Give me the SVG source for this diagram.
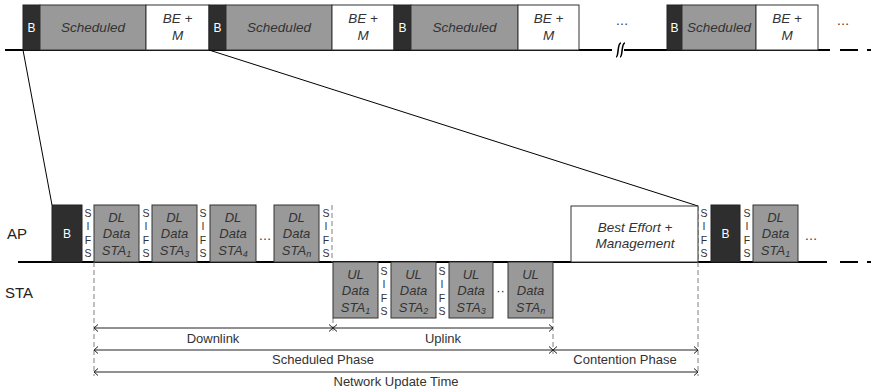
<svg xmlns="http://www.w3.org/2000/svg" width="871" height="391" viewBox="0 0 871 391">
  <style>
    text { font-family: "Liberation Sans", Arial, sans-serif; }
    .sched { fill: #999999; stroke: #333333; stroke-width: 1; }
    .beacon { fill: #2e2e2e; stroke: #222222; stroke-width: 1; }
    .plain { fill: #ffffff; stroke: #333333; stroke-width: 1; }
    .axis { stroke: #000000; stroke-width: 2; fill: none; }
    .axisdash { stroke: #000000; stroke-width: 2; fill: none; stroke-dasharray: 18 9; }
    .zoom { stroke: #000000; stroke-width: 1; fill: none; }
    .guide { stroke: #808080; stroke-width: 1; fill: none; stroke-dasharray: 5 3; }
    .dim { stroke: #222222; stroke-width: 1; fill: none; marker-start: url(#tickL); marker-end: url(#tickR); }
    .it { font-style: italic; font-size: 13.5px; fill: #333333; text-anchor: middle; }
    .itS { font-style: italic; font-size: 13px; fill: #333333; text-anchor: middle; }
    .bw { font-size: 12px; fill: #ffffff; text-anchor: middle; }
    .sifs { font-size: 10.5px; fill: #333333; text-anchor: middle; }
    .sub { font-size: 9px; }
    .lbl { font-size: 13px; fill: #333333; text-anchor: middle; }
    .row { font-size: 15px; fill: #222222; }
    .dots { font-size: 13px; fill: #333333; text-anchor: middle; }
  </style>
  <defs>
    <marker id="tickL" markerWidth="8" markerHeight="8" refX="0.5" refY="4" orient="auto" markerUnits="userSpaceOnUse">
      <path d="M4.5,0.5 L0.5,4 L4.5,7.5" fill="none" stroke="#222222" stroke-width="1"/>
    </marker>
    <marker id="tickR" markerWidth="8" markerHeight="8" refX="7.5" refY="4" orient="auto" markerUnits="userSpaceOnUse">
      <path d="M3.5,0.5 L7.5,4 L3.5,7.5" fill="none" stroke="#222222" stroke-width="1"/>
    </marker>
  </defs>
  <rect x="0" y="0" width="871" height="391" fill="#ffffff"/>

  <!-- superframe timeline -->
  <g id="top-axis">
    <line class="axis" x1="5" y1="50" x2="830" y2="50"/>
    <path class="axisdash" d="M840,50 H871"/>
    <!-- break mark -->
    <rect x="612" y="42" width="12" height="16" fill="#ffffff"/>
    <path d="M616,57 C619,57 617,43 621,43 M620,57 C623,57 621,43 625,43" fill="none" stroke="#000000" stroke-width="1.6"/>
  </g>

  <g id="sf1">
    <rect class="beacon" x="23" y="5" width="17" height="45"/>
    <text class="bw" x="31.5" y="32">B</text>
    <rect class="sched" x="40" y="5" width="106" height="45"/>
    <text class="it" x="93" y="32">Scheduled</text>
    <rect class="plain" x="146" y="5" width="63" height="45"/>
    <text class="it" x="177.5" y="23">BE +</text>
    <text class="it" x="177.5" y="40">M</text>
  </g>
  <g id="sf2">
    <rect class="beacon" x="209" y="5" width="17" height="45"/>
    <text class="bw" x="217.5" y="32">B</text>
    <rect class="sched" x="226" y="5" width="106" height="45"/>
    <text class="it" x="279" y="32">Scheduled</text>
    <rect class="plain" x="332" y="5" width="62" height="45"/>
    <text class="it" x="363" y="23">BE +</text>
    <text class="it" x="363" y="40">M</text>
  </g>
  <g id="sf3">
    <rect class="beacon" x="394" y="5" width="17" height="45"/>
    <text class="bw" x="402.5" y="32">B</text>
    <rect class="sched" x="411" y="5" width="107" height="45"/>
    <text class="it" x="464.5" y="32">Scheduled</text>
    <rect class="plain" x="518" y="5" width="61" height="45"/>
    <text class="it" x="548.5" y="23">BE +</text>
    <text class="it" x="548.5" y="40">M</text>
  </g>
  <text class="dots" x="622" y="25">…</text>
  <g id="sfN">
    <rect class="beacon" x="667" y="5" width="15" height="45"/>
    <text class="bw" x="674.5" y="32">B</text>
    <rect class="sched" x="682" y="5" width="74" height="45"/>
    <text class="it" x="719" y="32">Scheduled</text>
    <rect class="plain" x="756" y="5" width="62" height="45"/>
    <text class="it" x="787" y="23">BE +</text>
    <text class="it" x="787" y="40">M</text>
  </g>
  <text class="dots" x="843" y="25">…</text>

  <!-- zoom lines from one superframe to the detailed view -->
  <g id="connectors">
    <line class="zoom" x1="23" y1="50" x2="52" y2="205"/>
    <line class="zoom" x1="209" y1="50" x2="698" y2="206"/>
  </g>

  <!-- row labels -->
  <text class="row" x="7" y="239">AP</text>
  <text class="row" x="5" y="298">STA</text>

  <!-- AP timeline -->
  <g id="ap-axis">
    <line class="axis" x1="18" y1="262" x2="827" y2="262"/>
    <path class="axisdash" d="M840,262 H871"/>
  </g>

  <!-- guide lines -->
  <g id="guides">
    <line class="guide" x1="94" y1="262" x2="94" y2="376"/>
    <line class="guide" x1="332" y1="205" x2="332" y2="262"/>
    <line class="guide" x1="333" y1="318" x2="333" y2="334"/>
    <line class="guide" x1="553" y1="318" x2="553" y2="354"/>
    <line class="guide" x1="698" y1="206" x2="698" y2="376"/>
  </g>

  <g id="ap-beacon">
    <rect class="beacon" x="52" y="205" width="30" height="57"/>
    <text class="bw" x="67" y="238">B</text>
  </g>
  <g id="sifs-ap">
    <text class="sifs" x="88" y="217">S</text><text class="sifs" x="88" y="230">I</text><text class="sifs" x="88" y="244">F</text><text class="sifs" x="88" y="257">S</text>
    <text class="sifs" x="146" y="217">S</text><text class="sifs" x="146" y="230">I</text><text class="sifs" x="146" y="244">F</text><text class="sifs" x="146" y="257">S</text>
    <text class="sifs" x="203" y="217">S</text><text class="sifs" x="203" y="230">I</text><text class="sifs" x="203" y="244">F</text><text class="sifs" x="203" y="257">S</text>
    <text class="sifs" x="326" y="217">S</text><text class="sifs" x="326" y="230">I</text><text class="sifs" x="326" y="244">F</text><text class="sifs" x="326" y="257">S</text>
  </g>
  <g id="dl1">
    <rect class="sched" x="94" y="205" width="45" height="57"/>
    <text class="itS" x="116.5" y="222">DL</text>
    <text class="itS" x="116.5" y="238">Data</text>
    <text class="itS" x="116.5" y="255">STA<tspan class="sub" dy="2">1</tspan></text>
  </g>
  <g id="dl3">
    <rect class="sched" x="152" y="205" width="45" height="57"/>
    <text class="itS" x="174.5" y="222">DL</text>
    <text class="itS" x="174.5" y="238">Data</text>
    <text class="itS" x="174.5" y="255">STA<tspan class="sub" dy="2">3</tspan></text>
  </g>
  <g id="dl4">
    <rect class="sched" x="210" y="205" width="46" height="57"/>
    <text class="itS" x="233" y="222">DL</text>
    <text class="itS" x="233" y="238">Data</text>
    <text class="itS" x="233" y="255">STA<tspan class="sub" dy="2">4</tspan></text>
  </g>
  <text class="dots" x="265" y="240">…</text>
  <g id="dln">
    <rect class="sched" x="274" y="205" width="45" height="57"/>
    <text class="itS" x="296.5" y="222">DL</text>
    <text class="itS" x="296.5" y="238">Data</text>
    <text class="itS" x="296.5" y="255">STA<tspan class="sub" dy="2">n</tspan></text>
  </g>

  <!-- uplink slots below the axis -->
  <g id="sifs-sta">
    <text class="sifs" x="384" y="275">S</text><text class="sifs" x="384" y="288">I</text><text class="sifs" x="384" y="302">F</text><text class="sifs" x="384" y="315">S</text>
    <text class="sifs" x="442" y="275">S</text><text class="sifs" x="442" y="288">I</text><text class="sifs" x="442" y="302">F</text><text class="sifs" x="442" y="315">S</text>
  </g>
  <g id="ul1">
    <rect class="sched" x="333" y="262" width="45" height="56"/>
    <text class="itS" x="355.5" y="279">UL</text>
    <text class="itS" x="355.5" y="295">Data</text>
    <text class="itS" x="355.5" y="312">STA<tspan class="sub" dy="2">1</tspan></text>
  </g>
  <g id="ul2">
    <rect class="sched" x="391" y="262" width="45" height="56"/>
    <text class="itS" x="413.5" y="279">UL</text>
    <text class="itS" x="413.5" y="295">Data</text>
    <text class="itS" x="413.5" y="312">STA<tspan class="sub" dy="2">2</tspan></text>
  </g>
  <g id="ul3">
    <rect class="sched" x="449" y="262" width="44" height="56"/>
    <text class="itS" x="471" y="279">UL</text>
    <text class="itS" x="471" y="295">Data</text>
    <text class="itS" x="471" y="312">STA<tspan class="sub" dy="2">3</tspan></text>
  </g>
  <text class="dots" x="500.5" y="295">··</text>
  <g id="uln">
    <rect class="sched" x="508" y="262" width="45" height="56"/>
    <text class="itS" x="530.5" y="279">UL</text>
    <text class="itS" x="530.5" y="295">Data</text>
    <text class="itS" x="530.5" y="312">STA<tspan class="sub" dy="2">n</tspan></text>
  </g>

  <!-- contention phase and next beacon -->
  <g id="best-effort">
    <rect class="plain" x="571" y="206" width="127" height="56"/>
    <text class="it" x="635" y="232">Best Effort +</text>
    <text class="it" x="635" y="248">Management</text>
  </g>
  <g id="sifs-next">
    <text class="sifs" x="704" y="217">S</text><text class="sifs" x="704" y="230">I</text><text class="sifs" x="704" y="244">F</text><text class="sifs" x="704" y="257">S</text>
    <text class="sifs" x="747" y="217">S</text><text class="sifs" x="747" y="230">I</text><text class="sifs" x="747" y="244">F</text><text class="sifs" x="747" y="257">S</text>
  </g>
  <g id="next-beacon">
    <rect class="beacon" x="711" y="205" width="29" height="57"/>
    <text class="bw" x="725.5" y="238">B</text>
  </g>
  <g id="next-dl1">
    <rect class="sched" x="753" y="205" width="45" height="57"/>
    <text class="itS" x="775.5" y="222">DL</text>
    <text class="itS" x="775.5" y="238">Data</text>
    <text class="itS" x="775.5" y="255">STA<tspan class="sub" dy="2">1</tspan></text>
  </g>
  <text class="dots" x="811" y="240">…</text>

  <!-- duration brackets -->
  <g id="durations">
    <line class="dim" x1="94" y1="328" x2="333" y2="328"/>
    <text class="lbl" x="213" y="343">Downlink</text>
    <line class="dim" x1="333" y1="328" x2="553" y2="328"/>
    <text class="lbl" x="443" y="343">Uplink</text>
    <line class="dim" x1="94" y1="350" x2="553" y2="350"/>
    <text class="lbl" x="323" y="364">Scheduled Phase</text>
    <line class="dim" x1="553" y1="350" x2="698" y2="350"/>
    <text class="lbl" x="625" y="364">Contention Phase</text>
    <line class="dim" x1="94" y1="372" x2="698" y2="372"/>
    <text class="lbl" x="396" y="386">Network Update Time</text>
  </g>
</svg>
